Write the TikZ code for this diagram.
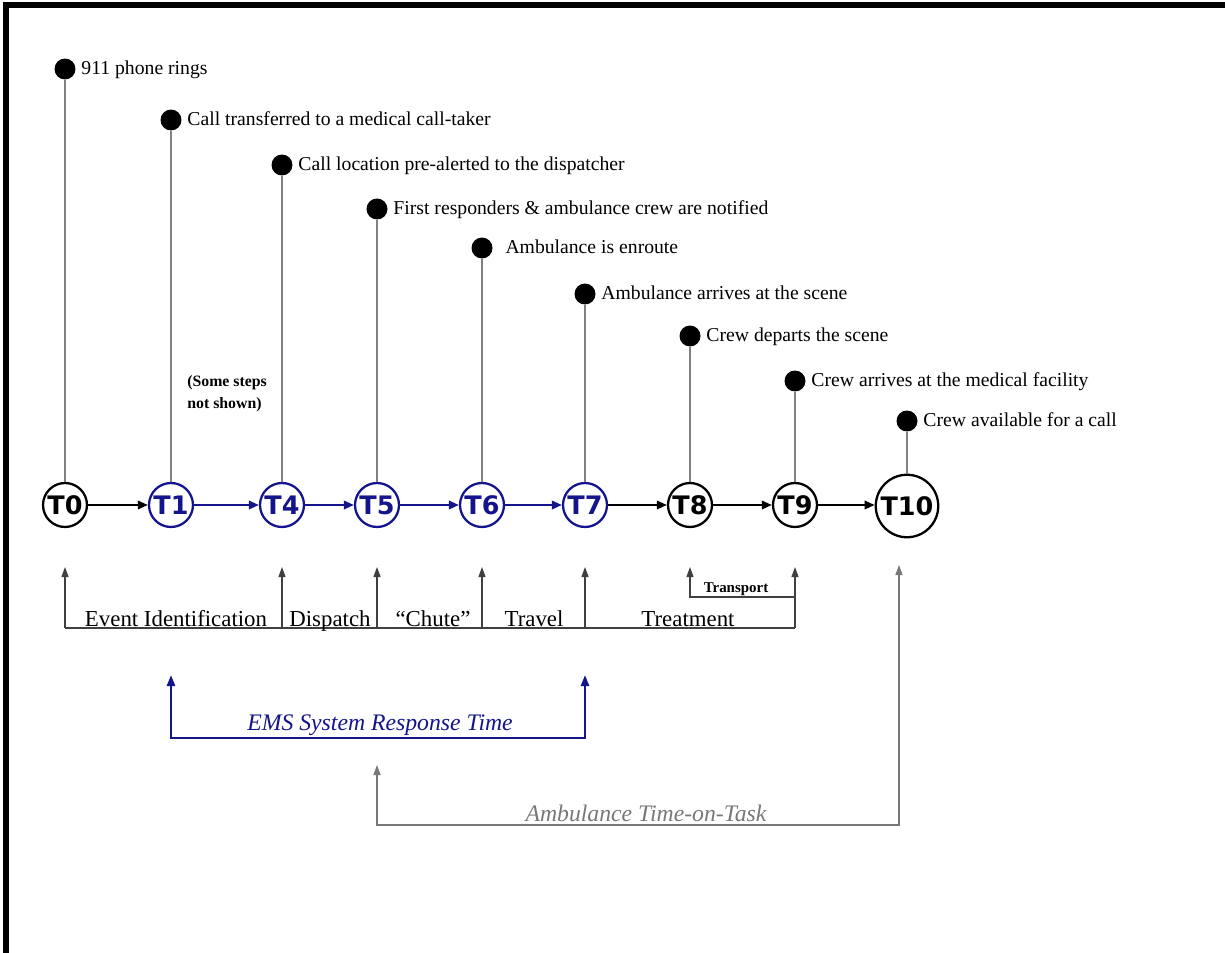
\documentclass[tikz,border=0pt]{standalone}
\usepackage{fontspec}
\setmainfont{Liberation Serif}
\newfontfamily\tfont{DejaVu Sans}
\usetikzlibrary{positioning,arrows.meta}
\definecolor{emsblue}{RGB}{20,20,140}
\definecolor{taskgray}{RGB}{120,120,120}
\begin{document}
\begin{tikzpicture}[
    x=0.02cm, y=-0.02cm,
    tstep/.style={draw, circle, line width=1.3pt, minimum size=0.88cm, inner sep=0pt,
        font=\tfont\bfseries\fontsize{14.5}{15}\selectfont},
    bluestep/.style={tstep, draw=emsblue, text=emsblue},
    dot/.style={fill, circle, minimum size=0.42cm, inner sep=0pt},
    event/.style={right=3pt of #1, inner sep=0pt, text height=1.6ex, text depth=0.3ex,
        font=\fontsize{11.2}{13}\selectfont},
    stem/.style={draw=gray, line width=0.8pt},
    flow/.style={-{Triangle[length=2mm,width=1.7mm]}, line width=1.1pt},
    bar/.style={draw=black!75, line width=0.7pt},
    up/.style={-{Triangle[length=2mm,width=1.4mm]}},
    phase/.style={anchor=base, inner sep=0pt, font=\fontsize{13}{15}\selectfont},
    ems/.style={draw=emsblue, line width=1.4pt, {Triangle[length=2.2mm,width=1.6mm]}-{Triangle[length=2.2mm,width=1.6mm]}},
    task/.style={draw=taskgray, line width=0.8pt, {Triangle[length=2mm,width=1.4mm]}-{Triangle[length=2mm,width=1.4mm]}}
]
    % frame
    \useasboundingbox (0,0) rectangle (1225,953);
    \fill (3,2) rectangle (1225,8);
    \fill (3,2) rectangle (9,953);

    % time stamps
    \node[tstep] (t0) at (65,505) {T0};
    \node[bluestep] (t1) at (171,505) {T1};
    \node[bluestep] (t4) at (282,505) {T4};
    \node[bluestep] (t5) at (377,505) {T5};
    \node[bluestep] (t6) at (482,505) {T6};
    \node[bluestep] (t7) at (585,505) {T7};
    \node[tstep] (t8) at (690,505) {T8};
    \node[tstep] (t9) at (795,505) {T9};
    \node[tstep, minimum size=1.25cm] (t10) at (907,506) {T10};

    % events
    \node[dot] (d0) at (65,69) {};
    \node[dot] (d1) at (171,120) {};
    \node[dot] (d4) at (282,165) {};
    \node[dot] (d5) at (377,209) {};
    \node[dot] (d6) at (482,248) {};
    \node[dot] (d7) at (585,294) {};
    \node[dot] (d8) at (690,336) {};
    \node[dot] (d9) at (795,381) {};
    \node[dot] (d10) at (907,421) {};
    \node[event=d0] {911 phone rings};
    \node[event=d1] {Call transferred to a medical call-taker};
    \node[event=d4] {Call location pre-alerted to the dispatcher};
    \node[event=d5] {First responders \& ambulance crew are notified};
    \node[event=d6, right=7pt of d6] {Ambulance is enroute};
    \node[event=d7] {Ambulance arrives at the scene};
    \node[event=d8] {Crew departs the scene};
    \node[event=d9] {Crew arrives at the medical facility};
    \node[event=d10] {Crew available for a call};
    \foreach \i in {0,1,4,5,6,7,8,9,10}
        \draw[stem] (d\i) -- (t\i);

    \node[anchor=west, align=left, inner sep=0pt, font=\bfseries\fontsize{9}{12.5}\selectfont]
        (hidden) at (187,394) {(Some steps\\not shown)};

    % timeline
    \draw[flow] (t0) -- (t1);
    \foreach \a/\b in {t1/t4, t4/t5, t5/t6, t6/t7}
        \draw[flow, emsblue] (\a) -- (\b);
    \foreach \a/\b in {t7/t8, t8/t9}
        \draw[flow] (\a) -- (\b);
    \draw[flow] (t9) -- (t9 -| t10.west);

    % intervals
    \coordinate (base) at (0,628);
    \coordinate (tip) at (0,567);
    \coordinate (tbase) at (0,597);
    \draw[bar] (t0 |- base) -- (t9 |- base);
    \foreach \t in {t0,t4,t5,t6,t7,t9}
        \draw[bar, up] (\t |- base) -- (\t |- tip);
    \draw[bar, up] (t9 |- tbase) -- (t8 |- tbase) -- (t8 |- tip);
    \node[phase] (p1) at (176,626) {Event Identification};
    \node[phase] (p2) at (330,626) {Dispatch};
    \node[phase] (p3) at (433,626) {``Chute''};
    \node[phase] (p4) at (534,626) {Travel};
    \node[phase] (p5) at (688,626) {Treatment};
    \node[phase, font=\bfseries\fontsize{8.5}{10}\selectfont] (p6) at (736,592) {Transport};

    % response time
    \coordinate (emstip) at (0,675);
    \coordinate (emsbase) at (0,738);
    \draw[ems] (t1 |- emstip) -- (t1 |- emsbase) -- (t7 |- emsbase) -- (t7 |- emstip);
    \node[phase, text=emsblue, font=\itshape\fontsize{13.5}{15}\selectfont] (rt) at (380,730) {EMS System Response Time};

    % time on task
    \coordinate (tasktip) at (0,765);
    \coordinate (taskbase) at (0,825);
    \coordinate (taskend) at (899,565);
    \draw[task] (t5 |- tasktip) -- (t5 |- taskbase) -- (taskend |- taskbase) -- (taskend);
    \node[phase, text=taskgray, font=\itshape\fontsize{13.5}{15}\selectfont] (tot) at (646,821) {Ambulance Time-on-Task};
\end{tikzpicture}
\end{document}
